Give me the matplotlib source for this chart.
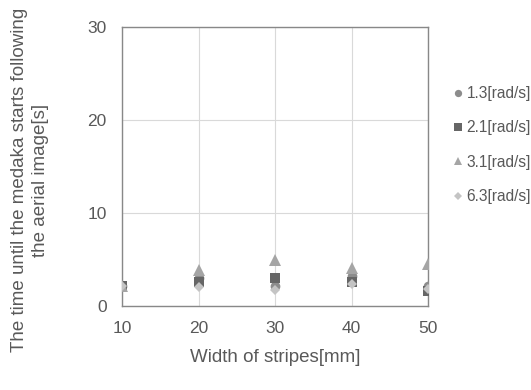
import matplotlib
matplotlib.use("Agg")
import matplotlib.pyplot as plt

plt.rcParams['font.family'] = ['Liberation Sans', 'DejaVu Sans']

# width of stripes [mm]
widths = [10, 20, 30, 40, 50]

# time until the medaka starts following [s], one list per rotation speed
t_13 = [2.2, 3.0, 2.2, 3.2, 2.2]
t_21 = [2.2, 2.6, 3.0, 2.6, 1.6]
t_31 = [2.2, 3.9, 5.0, 4.1, 4.5]
t_63 = [2.2, 2.1, 1.7, 2.4, 1.8]

labels = ['1.3[rad/s]', '2.1[rad/s]', '3.1[rad/s]', '6.3[rad/s]']
series = [t_13, t_21, t_31, t_63]
markers = ['o', 's', '^', 'D']
colors = ['#8c8c8c', '#666666', '#a5a5a5', '#c4c4c4']
sizes = [7, 7, 8, 5.5]

txt = '#595959'

fig = plt.figure(figsize=(5.31, 3.9), dpi=100)
ax = fig.add_axes([0.230, 0.215, 0.576, 0.715])

for vals, m, c, s, lab in zip(series, markers, colors, sizes, labels):
    ax.plot(widths, vals, linestyle='none', marker=m, color=c, markersize=s,
            markeredgewidth=0, label=lab, zorder=3)

ax.set_xlim(10, 50)
ax.set_ylim(0, 30)
ax.set_xticks(widths)
ax.set_yticks([0, 10, 20, 30])
ax.grid(True, color='#d9d9d9', linewidth=0.8)
ax.set_axisbelow(True)
for sp in ax.spines.values():
    sp.set_color('#888888')
    sp.set_linewidth(1.0)
ax.tick_params(length=0, labelsize=12.5, colors=txt)
ax.tick_params(axis='x', pad=11)
ax.tick_params(axis='y', pad=11)

ax.set_xlabel('Width of stripes[mm]', fontsize=13.5, color=txt, labelpad=9)
ax.set_ylabel('The time until the medaka starts following\nthe aerial image[s]',
              fontsize=13.5, color=txt, linespacing=1.3, va='center',
              multialignment='center')
ax.yaxis.set_label_coords(-0.3, 0.452)

fig.legend(loc='upper left', bbox_to_anchor=(0.842, 0.795), frameon=False,
           fontsize=11.2, labelcolor=txt, handlelength=0.55, handletextpad=0.3,
           labelspacing=1.24, borderaxespad=0, markerscale=0.75)

fig.savefig('out.png', dpi=100)
